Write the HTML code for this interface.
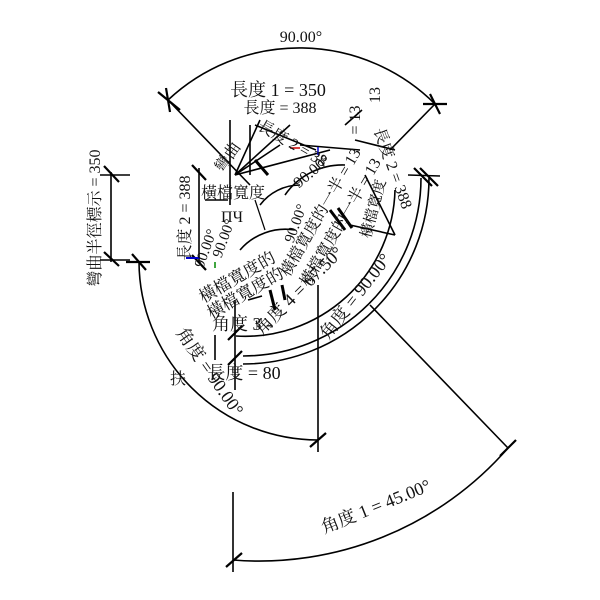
<!DOCTYPE html>
<html><head><meta charset="utf-8"><style>
html,body{margin:0;padding:0;background:#fff;}
svg{display:block;}
text{font-family:"Liberation Serif","Noto Serif CJK SC","Noto Sans CJK TC",serif;fill:#111;}
</style></head><body>
<svg width="600" height="600" viewBox="0 0 600 600" xmlns="http://www.w3.org/2000/svg">
<g fill="none" stroke="#000" stroke-width="1.6">
<path d="M168,100 A192,192 0 0 1 435,104"/>
<line x1="158" y1="92" x2="180" y2="110" stroke-width="2.2"/><line x1="166" y1="88" x2="170" y2="112" stroke-width="2.2"/>
<line x1="423" y1="104" x2="447" y2="104" stroke-width="2.2"/><line x1="430" y1="94" x2="440" y2="114" stroke-width="2.2"/>
<line x1="168" y1="100" x2="250" y2="185"/>
<line x1="435" y1="104" x2="390" y2="150"/>
<line x1="111" y1="172" x2="111" y2="262"/>
<line x1="104" y1="166" x2="119" y2="182" stroke-width="2.2"/><line x1="104" y1="252" x2="119" y2="266" stroke-width="2.2"/>
<line x1="100" y1="175" x2="130" y2="175"/><line x1="100" y1="260" x2="130" y2="260"/>
<path d="M139,262 A179,179 0 0 0 318,440"/>
<line x1="126" y1="262" x2="150" y2="262" stroke-width="2.2"/><line x1="132" y1="254" x2="146" y2="270" stroke-width="2.2"/>
<line x1="318" y1="285" x2="318" y2="452"/>
<line x1="310" y1="447" x2="326" y2="433" stroke-width="2.2"/>
<line x1="370" y1="305" x2="508" y2="448"/>
<line x1="500" y1="456" x2="516" y2="440" stroke-width="2.2"/>
<path d="M233,560 A330,330 0 0 0 508,448"/>
<line x1="233" y1="492" x2="233" y2="572"/>
<line x1="226" y1="567" x2="242" y2="553" stroke-width="2.2"/>
<path d="M421,178 A178,178 0 0 1 243,356"/>
<path d="M429,178 A186,186 0 0 1 243,364"/>
<path d="M395,190 A150,150 0 0 1 236,336"/>
<line x1="408" y1="175" x2="440" y2="176"/><line x1="414" y1="168" x2="432" y2="186" stroke-width="2.2"/><line x1="420" y1="168" x2="438" y2="186" stroke-width="2.2"/>
<line x1="235" y1="300" x2="235" y2="390"/>
<line x1="228" y1="340" x2="242" y2="326" stroke-width="2.2"/><line x1="228" y1="365" x2="242" y2="351" stroke-width="2.2"/>
<line x1="215" y1="335" x2="215" y2="360"/>
<line x1="199" y1="168" x2="199" y2="262"/>
<line x1="192" y1="165" x2="206" y2="180" stroke-width="2.2"/><line x1="192" y1="255" x2="206" y2="270" stroke-width="2.2"/>
<line x1="235" y1="175" x2="330" y2="150"/>
<line x1="235" y1="175" x2="260" y2="120"/>
<line x1="235" y1="175" x2="290" y2="125"/>
<line x1="235" y1="175" x2="280" y2="145"/>
<line x1="230" y1="120" x2="230" y2="205"/>
<line x1="250" y1="125" x2="250" y2="175"/>
<line x1="255" y1="125" x2="316" y2="150"/>
<line x1="300" y1="145" x2="360" y2="150"/>
<line x1="362" y1="110" x2="345" y2="125"/>
<line x1="355" y1="140" x2="395" y2="150"/>
<line x1="365" y1="175" x2="395" y2="235"/>
<line x1="350" y1="225" x2="395" y2="235"/>
<path d="M240,250 A60,60 0 0 1 295,230"/>
<path d="M260,205 A50,50 0 0 1 300,185"/>
<path d="M285,195 A70,70 0 0 1 345,165"/>
<line x1="255" y1="160" x2="268" y2="175" stroke-width="3"/>
<line x1="255" y1="200" x2="265" y2="230" stroke-width="1.2"/>
<line x1="330" y1="210" x2="345" y2="230" stroke-width="3"/>
<line x1="338" y1="208" x2="352" y2="228" stroke-width="3"/>
<line x1="270" y1="290" x2="275" y2="310" stroke-width="3"/>
<line x1="282" y1="285" x2="285" y2="300" stroke-width="3"/>
<line x1="248" y1="300" x2="262" y2="296"/>
<line x1="205" y1="200" x2="228" y2="200"/>
</g>
<line x1="300" y1="148" x2="290" y2="148" stroke="#c00" stroke-width="1.5"/>
<line x1="186" y1="258" x2="200" y2="258" stroke="#00c" stroke-width="2"/>
<line x1="215" y1="262" x2="215" y2="268" stroke="#080" stroke-width="1.5"/>
<line x1="318" y1="147" x2="318" y2="155" stroke="#00c" stroke-width="1.5"/>

<g font-size="17">
<text x="301" y="42" text-anchor="middle" font-size="16">90.00°</text>
<text x="278" y="96" text-anchor="middle" font-size="18">長度 1 = 350</text>
<text x="280" y="113" text-anchor="middle" font-size="16">長度 = 388</text>
<text transform="translate(100,218) rotate(-90)" text-anchor="middle" font-size="16">彎曲半徑標示 = 350</text>
<text transform="translate(190,218) rotate(-90)" text-anchor="middle" font-size="16">長度 2 = 388</text>
<text x="233" y="198" text-anchor="middle" font-size="16">橫檔寬度</text>
<text x="232" y="222" text-anchor="middle" font-size="16">ПЧ</text>
<text transform="translate(210,250) rotate(-70)" text-anchor="middle" font-size="15">90.00°</text>
<text transform="translate(228,240) rotate(-70)" text-anchor="middle" font-size="15">90.00°</text>
<text transform="translate(240,282) rotate(-30)" text-anchor="middle" font-size="17">橫檔寬度的</text>
<text transform="translate(248,298) rotate(-30)" text-anchor="middle" font-size="17">橫檔寬度的</text>
<text transform="translate(290,148) rotate(30)" text-anchor="middle" font-size="16">長度 2 = 38</text>
<text transform="translate(315,175) rotate(-40)" text-anchor="middle" font-size="16">90.00°</text>
<text transform="translate(325,215) rotate(-60)" text-anchor="middle" font-size="16">橫檔寬度的一半 = 13</text>
<text transform="translate(345,225) rotate(-60)" text-anchor="middle" font-size="16">橫檔寬度的一半 = 13</text>
<text transform="translate(300,225) rotate(-70)" text-anchor="middle" font-size="15">90.00°</text>
<text transform="translate(360,120) rotate(-90)" text-anchor="middle" font-size="16">= 13</text>
<text transform="translate(388,170) rotate(70)" text-anchor="middle" font-size="16">長度 2 = 388</text>
<text transform="translate(380,95) rotate(-90)" text-anchor="middle" font-size="16">13</text>
<text transform="translate(378,210) rotate(-75)" text-anchor="middle" font-size="15">橫檔寬度</text>
<text x="242" y="330" text-anchor="middle" font-size="18">角度 3 -</text>
<text transform="translate(303,295) rotate(-45)" text-anchor="middle" font-size="18">角度 4 = 67.50°</text>
<text transform="translate(360,300) rotate(-52)" text-anchor="middle" font-size="18">角度 = 90.00°</text>
<text transform="translate(205,375) rotate(55)" text-anchor="middle" font-size="18">角度 = 90.00°</text>
<text x="244" y="379" text-anchor="middle" font-size="18">長度 = 80</text>
<text x="178" y="384" text-anchor="middle" font-size="16">扶</text>
<text transform="translate(378,512) rotate(-22)" text-anchor="middle" font-size="18">角度 1 = 45.00°</text>
<text transform="translate(232,160) rotate(-55)" text-anchor="middle" font-size="16">彎曲</text>
</g>
</svg>
</body></html>
